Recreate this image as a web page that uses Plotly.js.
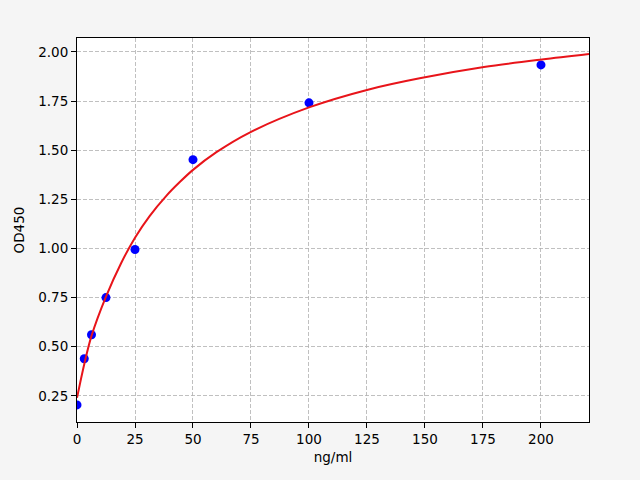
<!DOCTYPE html>
<html>
<head>
<meta charset="utf-8">
<script src="https://cdn.plot.ly/plotly-3.0.1.min.js"></script>
<style>
  html, body { margin: 0; padding: 0; background: #f5f5f5; }
  #chart { width: 640px; height: 480px; }
</style>
</head>
<body>
<div id="chart"></div>
<script>
// Standard points (concentration ng/ml vs OD450)
const stdConc = [0, 3.125, 6.25, 12.5, 25, 50, 100, 200];
const stdOD   = [0.204, 0.439, 0.561, 0.75, 0.995, 1.452, 1.741, 1.934];

// Fitted curve
const fitX = [0, 3.2, 6.25, 12.5, 19, 25, 31.3, 38.5, 44.3, 50, 60.1, 74.4,
              100.3, 125.4, 147.7, 175.4, 200.4, 220.7];
const fitY = [0.24, 0.415, 0.555, 0.755, 0.925, 1.055, 1.165, 1.268, 1.338, 1.40,
              1.49, 1.59, 1.719, 1.808, 1.866, 1.923, 1.962, 1.99];

const yTicks = [0.25, 0.5, 0.75, 1.0, 1.25, 1.5, 1.75, 2.0];
const xTicks = [0, 25, 50, 75, 100, 125, 150, 175, 200];

const FONT = 'DejaVu Sans, sans-serif';

const traces = [
  {
    x: stdConc, y: stdOD,
    type: 'scatter', mode: 'markers',
    marker: { color: '#0000ff', size: 9 },
    hoverinfo: 'skip',
  },
  {
    x: fitX, y: fitY,
    type: 'scatter', mode: 'lines',
    line: { color: '#e8141a', width: 2, shape: 'spline', smoothing: 0.9 },
    hoverinfo: 'skip',
  },
];

const axisBase = {
  showline: true, mirror: true, linecolor: '#000', linewidth: 1,
  ticks: 'outside', ticklen: 5, tickwidth: 1, tickcolor: '#000',
  showgrid: true, gridcolor: '#b0b0b0', gridwidth: 0.8, griddash: '4px,2px',
  zeroline: false,
  tickfont: { family: FONT, size: 13.5, color: '#000' },
};

const layout = {
  width: 640, height: 480,
  paper_bgcolor: '#f5f5f5',
  plot_bgcolor: '#ffffff',
  showlegend: false,
  margin: { l: 77, r: 51, t: 38, b: 58, pad: 0 },
  font: { family: FONT, size: 13.5, color: '#000' },
  xaxis: Object.assign({}, axisBase, {
    range: [0, 220.7],
    tickvals: xTicks,
    ticktext: xTicks.map(String),
    title: { text: 'ng/ml', font: { family: FONT, size: 13.5 }, standoff: 6 },
  }),
  yaxis: Object.assign({}, axisBase, {
    range: [0.117, 2.071],
    tickvals: yTicks,
    ticktext: yTicks.map(v => v.toFixed(2)),
    title: { text: 'OD450', font: { family: FONT, size: 13.5 }, standoff: 10 },
  }),
};

Plotly.newPlot('chart', traces, layout, { displayModeBar: false, staticPlot: true });
</script>
</body>
</html>
